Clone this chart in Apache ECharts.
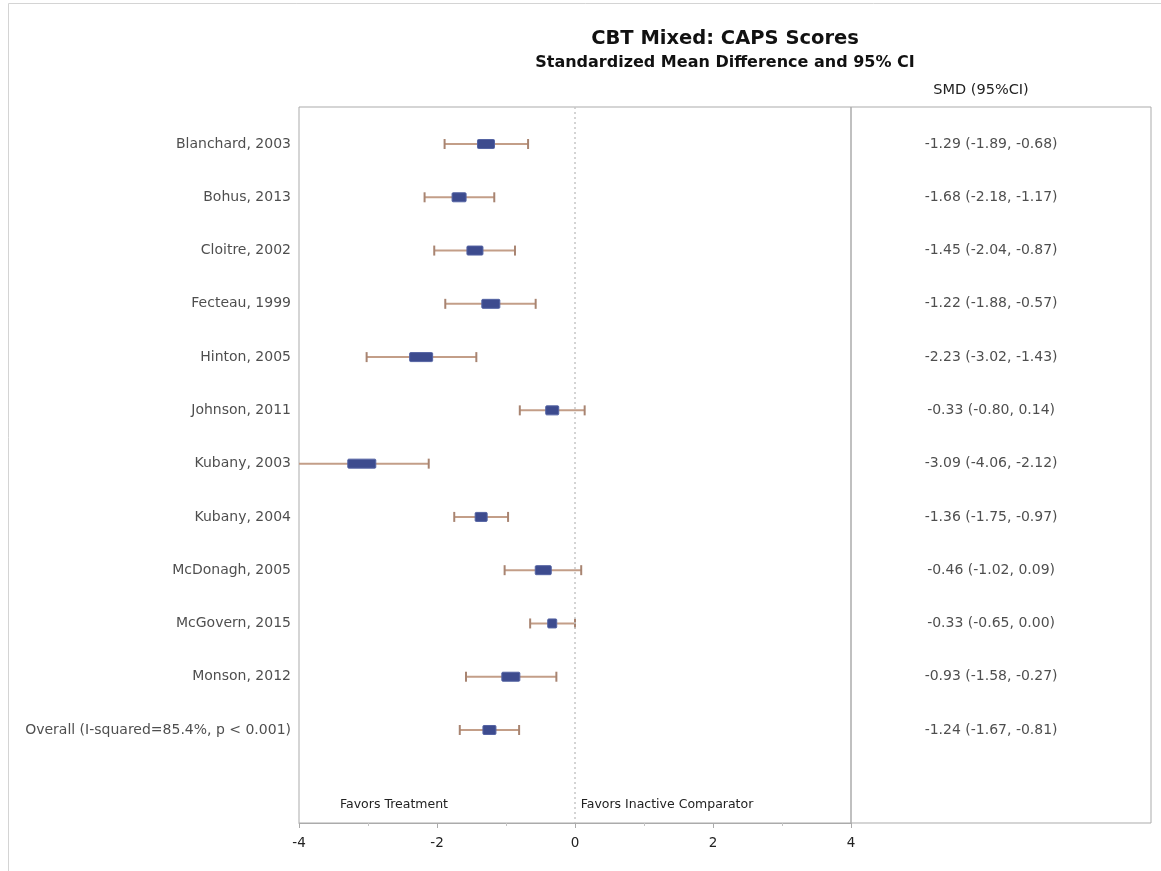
<!DOCTYPE html>
<html>
<head>
<meta charset="utf-8">
<script src="https://cdn.jsdelivr.net/npm/echarts@6/dist/echarts.min.js"></script>
<style>
  html, body { margin: 0; padding: 0; background: #fff; }
  #chart { width: 1161px; height: 871px; }
</style>
</head>
<body>
<div id="chart"></div>
<script>
// Forest plot: CBT mixed trials, CAPS scores (standardized mean difference, 95% CI)
const studies = [
  'Blanchard, 2003', 'Bohus, 2013', 'Cloitre, 2002', 'Fecteau, 1999',
  'Hinton, 2005', 'Johnson, 2011', 'Kubany, 2003', 'Kubany, 2004',
  'McDonagh, 2005', 'McGovern, 2015', 'Monson, 2012',
  'Overall (I-squared=85.4%, p < 0.001)'
];
const smd     = [-1.29, -1.68, -1.45, -1.22, -2.23, -0.33, -3.09, -1.36, -0.46, -0.33, -0.93, -1.24];
const ciLow   = [-1.89, -2.18, -2.04, -1.88, -3.02, -0.80, -4.06, -1.75, -1.02, -0.65, -1.58, -1.67];
const ciHigh  = [-0.68, -1.17, -0.87, -0.57, -1.43,  0.14, -2.12, -0.97,  0.09,  0.00, -0.27, -0.81];
// relative study weight, drives the width of each box
const weight  = [8.5, 7, 8, 9, 11.5, 6.5, 14, 6, 8, 4.5, 9, 6.5];
const xTicks  = [-4, -2, 0, 2, 4];

const FONT = 'DejaVu Sans';
const TEXT = '#222';
const rows = studies.map((name, i) => [smd[i], ciLow[i], ciHigh[i], i + 1, weight[i], name]);
const ciText = (i) => `${smd[i].toFixed(2)} (${ciLow[i].toFixed(2)}, ${ciHigh[i].toFixed(2)})`;

const yCommon = {
  type: 'value', inverse: true, min: 0.305, max: 13.746,
  axisLine: { show: false }, axisTick: { show: false },
  axisLabel: { show: false }, splitLine: { show: false }
};

const chart = echarts.init(document.getElementById('chart'), null, { renderer: 'canvas' });
chart.setOption({
  animation: false,
  backgroundColor: '#fff',
  title: [
    { text: 'CBT Mixed: CAPS Scores', left: 720, top: 24, textAlign: 'center',
      textStyle: { fontFamily: FONT, fontSize: 19.5, fontWeight: 'bold', color: '#111' } },
    { text: 'Standardized Mean Difference and 95% CI', left: 720, top: 50, textAlign: 'center',
      textStyle: { fontFamily: FONT, fontSize: 16, fontWeight: 'bold', color: '#111' } }
  ],
  graphic: [
    { type: 'rect', silent: true, z: -1,
      shape: { x: 8.5, y: 3.5, width: 1170, height: 880 },
      style: { fill: null, stroke: '#d4d4d4', lineWidth: 1 } },
    { type: 'text', x: 981, y: 90, silent: true,
      style: { text: 'SMD (95%CI)', fontFamily: FONT, fontSize: 14.5, fill: TEXT, align: 'center', verticalAlign: 'middle' } },
    { type: 'text', x: 394, y: 805, silent: true,
      style: { text: 'Favors Treatment', fontFamily: FONT, fontSize: 12.5, fill: TEXT, align: 'center', verticalAlign: 'middle' } },
    { type: 'text', x: 667, y: 805, silent: true,
      style: { text: 'Favors Inactive Comparator', fontFamily: FONT, fontSize: 12.5, fill: TEXT, align: 'center', verticalAlign: 'middle' } }
  ],
  grid: [
    { left: 299, top: 107, width: 552, height: 716, show: true, borderColor: '#ababab', borderWidth: 1, backgroundColor: 'transparent' },
    { left: 851, top: 107, width: 300, height: 716, show: true, borderColor: '#ababab', borderWidth: 1, backgroundColor: 'transparent' }
  ],
  xAxis: [
    { type: 'value', gridIndex: 0, min: xTicks[0], max: xTicks[xTicks.length - 1], interval: 2,
      axisLine: { show: true, lineStyle: { color: '#ababab' } },
      axisTick: { show: true, length: 5, lineStyle: { color: '#ababab' } },
      minorTick: { show: true, splitNumber: 2, length: 3, lineStyle: { color: '#c4c4c4' } },
      splitLine: { show: false },
      axisLabel: { fontFamily: FONT, fontSize: 13.5, color: TEXT, margin: 13 } },
    { type: 'value', gridIndex: 1, min: 0, max: 1, show: false }
  ],
  yAxis: [
    Object.assign({ gridIndex: 0 }, yCommon),
    Object.assign({ gridIndex: 1 }, yCommon)
  ],
  series: [
    {
      type: 'custom', xAxisIndex: 0, yAxisIndex: 0, clip: true,
      data: rows,
      renderItem: (params, api) => {
        const y = api.coord([0, api.value(3)])[1];
        const xm = api.coord([api.value(0), 0])[0];
        const xl = api.coord([api.value(1), 0])[0];
        const xh = api.coord([api.value(2), 0])[0];
        const bw = api.value(4) * 2;
        const bh = 9;
        const whisker = { stroke: '#c39e88', lineWidth: 2 };
        const cap = { stroke: '#a88471', lineWidth: 2 };
        return {
          type: 'group',
          children: [
            { type: 'line', shape: { x1: xl, y1: y, x2: xh, y2: y }, style: whisker },
            { type: 'line', shape: { x1: xl, y1: y - 5, x2: xl, y2: y + 5 }, style: cap },
            { type: 'line', shape: { x1: xh, y1: y - 5, x2: xh, y2: y + 5 }, style: cap },
            { type: 'rect', shape: { x: xm - bw / 2, y: y - bh / 2, width: bw, height: bh, r: 1 },
              style: { fill: '#3d4b8e', stroke: '#5463a3', lineWidth: 1 } }
          ]
        };
      },
      markLine: {
        silent: true, symbol: 'none', label: { show: false },
        lineStyle: { color: '#c6c6c6', type: [2, 3], width: 1.5 },
        data: [{ xAxis: 0 }]
      },
      z: 3
    },
    {
      // study names to the left of the plot box
      type: 'scatter', xAxisIndex: 0, yAxisIndex: 0, symbolSize: 0, clip: false,
      data: studies.map((n, i) => [xTicks[0], i + 1, n]),
      label: { show: true, position: 'left', distance: 8, formatter: (p) => p.value[2],
        fontFamily: FONT, fontSize: 14, color: TEXT }
    },
    {
      // effect size and interval text column
      type: 'scatter', xAxisIndex: 1, yAxisIndex: 1, symbolSize: 0, clip: false,
      data: studies.map((n, i) => [0.467, i + 1]),
      label: { show: true, position: 'inside', formatter: (p) => ciText(p.dataIndex),
        fontFamily: FONT, fontSize: 14, color: TEXT }
    }
  ]
});
</script>
</body>
</html>
